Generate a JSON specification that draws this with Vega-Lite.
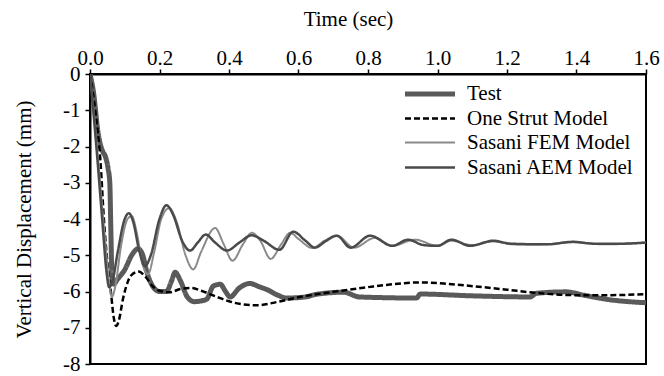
{
  "$schema": "https://vega.github.io/schema/vega-lite/v6.json",
  "width": 556,
  "height": 290,
  "autosize": {"type": "none"},
  "padding": {"left": 90, "top": 74, "right": 18, "bottom": 12},
  "background": "white",
  "config": {
    "font": "Liberation Serif, Times New Roman, serif",
    "view": {"stroke": "black", "strokeWidth": 2},
    "legend": {"labelFont": "Liberation Serif, Times New Roman, serif"},
    "axis": {"grid": false, "domainColor": "black", "domainWidth": 2, "tickColor": "black", "tickWidth": 1.5, "tickSize": 5, "labelColor": "black", "labelFont": "Liberation Serif, Times New Roman, serif", "labelFontSize": 21, "titleFont": "Liberation Serif, Times New Roman, serif", "titleFontSize": 21, "titleFontWeight": "normal", "titleColor": "black"}
  },
  "data": {"values": [
    {"t":0,"v":0,"s":"Test"},{"t":0.01,"v":-0.5,"s":"Test"},{"t":0.023,"v":-1.6,"s":"Test"},{"t":0.035,"v":-2.1,"s":"Test"},{"t":0.045,"v":-2.3,"s":"Test"},{"t":0.052,"v":-2.6,"s":"Test"},{"t":0.057,"v":-3.0,"s":"Test"},{"t":0.06,"v":-4.3,"s":"Test"},{"t":0.063,"v":-5.5,"s":"Test"},{"t":0.068,"v":-5.8,"s":"Test"},{"t":0.08,"v":-5.65,"s":"Test"},{"t":0.1,"v":-5.4,"s":"Test"},{"t":0.12,"v":-5.0,"s":"Test"},{"t":0.138,"v":-4.82,"s":"Test"},{"t":0.15,"v":-4.95,"s":"Test"},{"t":0.165,"v":-5.5,"s":"Test"},{"t":0.18,"v":-5.85,"s":"Test"},{"t":0.2,"v":-6.0,"s":"Test"},{"t":0.22,"v":-6.0,"s":"Test"},{"t":0.235,"v":-5.7,"s":"Test"},{"t":0.245,"v":-5.47,"s":"Test"},{"t":0.26,"v":-5.7,"s":"Test"},{"t":0.28,"v":-6.15,"s":"Test"},{"t":0.3,"v":-6.28,"s":"Test"},{"t":0.335,"v":-6.22,"s":"Test"},{"t":0.355,"v":-5.85,"s":"Test"},{"t":0.375,"v":-5.8,"s":"Test"},{"t":0.39,"v":-6.0,"s":"Test"},{"t":0.403,"v":-6.15,"s":"Test"},{"t":0.43,"v":-5.9,"s":"Test"},{"t":0.46,"v":-5.78,"s":"Test"},{"t":0.49,"v":-5.88,"s":"Test"},{"t":0.51,"v":-5.95,"s":"Test"},{"t":0.54,"v":-6.1,"s":"Test"},{"t":0.566,"v":-6.18,"s":"Test"},{"t":0.62,"v":-6.15,"s":"Test"},{"t":0.65,"v":-6.08,"s":"Test"},{"t":0.73,"v":-6.02,"s":"Test"},{"t":0.775,"v":-6.15,"s":"Test"},{"t":0.94,"v":-6.18,"s":"Test"},{"t":0.95,"v":-6.07,"s":"Test"},{"t":1.1,"v":-6.12,"s":"Test"},{"t":1.266,"v":-6.15,"s":"Test"},{"t":1.285,"v":-6.05,"s":"Test"},{"t":1.37,"v":-6.01,"s":"Test"},{"t":1.42,"v":-6.1,"s":"Test"},{"t":1.49,"v":-6.22,"s":"Test"},{"t":1.6,"v":-6.31,"s":"Test"},

    {"t":0,"v":0,"s":"One Strut Model"},{"t":0.015,"v":-1.0,"s":"One Strut Model"},{"t":0.03,"v":-2.4,"s":"One Strut Model"},{"t":0.04,"v":-4.0,"s":"One Strut Model"},{"t":0.05,"v":-5.2,"s":"One Strut Model"},{"t":0.06,"v":-6.0,"s":"One Strut Model"},{"t":0.068,"v":-6.7,"s":"One Strut Model"},{"t":0.075,"v":-6.95,"s":"One Strut Model"},{"t":0.083,"v":-6.8,"s":"One Strut Model"},{"t":0.095,"v":-6.2,"s":"One Strut Model"},{"t":0.11,"v":-5.7,"s":"One Strut Model"},{"t":0.125,"v":-5.5,"s":"One Strut Model"},{"t":0.14,"v":-5.45,"s":"One Strut Model"},{"t":0.16,"v":-5.6,"s":"One Strut Model"},{"t":0.18,"v":-5.85,"s":"One Strut Model"},{"t":0.2,"v":-5.98,"s":"One Strut Model"},{"t":0.23,"v":-6.02,"s":"One Strut Model"},{"t":0.26,"v":-5.93,"s":"One Strut Model"},{"t":0.29,"v":-5.9,"s":"One Strut Model"},{"t":0.32,"v":-5.98,"s":"One Strut Model"},{"t":0.365,"v":-6.15,"s":"One Strut Model"},{"t":0.4,"v":-6.27,"s":"One Strut Model"},{"t":0.43,"v":-6.34,"s":"One Strut Model"},{"t":0.48,"v":-6.38,"s":"One Strut Model"},{"t":0.538,"v":-6.29,"s":"One Strut Model"},{"t":0.604,"v":-6.15,"s":"One Strut Model"},{"t":0.7,"v":-6.01,"s":"One Strut Model"},{"t":0.8,"v":-5.88,"s":"One Strut Model"},{"t":0.87,"v":-5.8,"s":"One Strut Model"},{"t":0.95,"v":-5.75,"s":"One Strut Model"},{"t":1.03,"v":-5.79,"s":"One Strut Model"},{"t":1.13,"v":-5.88,"s":"One Strut Model"},{"t":1.2,"v":-5.95,"s":"One Strut Model"},{"t":1.275,"v":-6.03,"s":"One Strut Model"},{"t":1.39,"v":-6.1,"s":"One Strut Model"},{"t":1.5,"v":-6.1,"s":"One Strut Model"},{"t":1.6,"v":-6.07,"s":"One Strut Model"},

    {"t":0,"v":0,"s":"Sasani FEM Model"},{"t":0.02,"v":-2.0,"s":"Sasani FEM Model"},{"t":0.04,"v":-4.2,"s":"Sasani FEM Model"},{"t":0.055,"v":-5.7,"s":"Sasani FEM Model"},{"t":0.063,"v":-6.15,"s":"Sasani FEM Model"},{"t":0.072,"v":-5.9,"s":"Sasani FEM Model"},{"t":0.09,"v":-4.7,"s":"Sasani FEM Model"},{"t":0.108,"v":-4.0,"s":"Sasani FEM Model"},{"t":0.12,"v":-3.92,"s":"Sasani FEM Model"},{"t":0.135,"v":-4.4,"s":"Sasani FEM Model"},{"t":0.15,"v":-5.2,"s":"Sasani FEM Model"},{"t":0.167,"v":-5.52,"s":"Sasani FEM Model"},{"t":0.185,"v":-4.9,"s":"Sasani FEM Model"},{"t":0.205,"v":-4.0,"s":"Sasani FEM Model"},{"t":0.228,"v":-3.7,"s":"Sasani FEM Model"},{"t":0.25,"v":-4.1,"s":"Sasani FEM Model"},{"t":0.275,"v":-5.0,"s":"Sasani FEM Model"},{"t":0.297,"v":-5.39,"s":"Sasani FEM Model"},{"t":0.32,"v":-4.9,"s":"Sasani FEM Model"},{"t":0.36,"v":-4.25,"s":"Sasani FEM Model"},{"t":0.385,"v":-4.7,"s":"Sasani FEM Model"},{"t":0.41,"v":-5.15,"s":"Sasani FEM Model"},{"t":0.44,"v":-4.7,"s":"Sasani FEM Model"},{"t":0.466,"v":-4.38,"s":"Sasani FEM Model"},{"t":0.49,"v":-4.6,"s":"Sasani FEM Model"},{"t":0.52,"v":-5.1,"s":"Sasani FEM Model"},{"t":0.55,"v":-4.7,"s":"Sasani FEM Model"},{"t":0.576,"v":-4.38,"s":"Sasani FEM Model"},{"t":0.6,"v":-4.55,"s":"Sasani FEM Model"},{"t":0.64,"v":-4.8,"s":"Sasani FEM Model"},{"t":0.675,"v":-4.6,"s":"Sasani FEM Model"},{"t":0.71,"v":-4.46,"s":"Sasani FEM Model"},{"t":0.76,"v":-4.79,"s":"Sasani FEM Model"},{"t":0.82,"v":-4.52,"s":"Sasani FEM Model"},{"t":0.87,"v":-4.74,"s":"Sasani FEM Model"},{"t":0.935,"v":-4.57,"s":"Sasani FEM Model"},{"t":1.0,"v":-4.74,"s":"Sasani FEM Model"},{"t":1.04,"v":-4.6,"s":"Sasani FEM Model"},{"t":1.1,"v":-4.72,"s":"Sasani FEM Model"},{"t":1.16,"v":-4.62,"s":"Sasani FEM Model"},{"t":1.22,"v":-4.7,"s":"Sasani FEM Model"},{"t":1.3,"v":-4.7,"s":"Sasani FEM Model"},{"t":1.39,"v":-4.64,"s":"Sasani FEM Model"},{"t":1.48,"v":-4.7,"s":"Sasani FEM Model"},{"t":1.6,"v":-4.65,"s":"Sasani FEM Model"},

    {"t":0,"v":0,"s":"Sasani AEM Model"},{"t":0.02,"v":-2.2,"s":"Sasani AEM Model"},{"t":0.035,"v":-4.0,"s":"Sasani AEM Model"},{"t":0.048,"v":-5.5,"s":"Sasani AEM Model"},{"t":0.055,"v":-5.88,"s":"Sasani AEM Model"},{"t":0.065,"v":-5.7,"s":"Sasani AEM Model"},{"t":0.08,"v":-4.9,"s":"Sasani AEM Model"},{"t":0.1,"v":-4.0,"s":"Sasani AEM Model"},{"t":0.112,"v":-3.84,"s":"Sasani AEM Model"},{"t":0.125,"v":-4.1,"s":"Sasani AEM Model"},{"t":0.14,"v":-4.8,"s":"Sasani AEM Model"},{"t":0.158,"v":-5.3,"s":"Sasani AEM Model"},{"t":0.175,"v":-5.0,"s":"Sasani AEM Model"},{"t":0.2,"v":-4.0,"s":"Sasani AEM Model"},{"t":0.22,"v":-3.62,"s":"Sasani AEM Model"},{"t":0.24,"v":-3.9,"s":"Sasani AEM Model"},{"t":0.265,"v":-4.6,"s":"Sasani AEM Model"},{"t":0.288,"v":-4.87,"s":"Sasani AEM Model"},{"t":0.31,"v":-4.65,"s":"Sasani AEM Model"},{"t":0.333,"v":-4.43,"s":"Sasani AEM Model"},{"t":0.36,"v":-4.65,"s":"Sasani AEM Model"},{"t":0.394,"v":-4.87,"s":"Sasani AEM Model"},{"t":0.43,"v":-4.65,"s":"Sasani AEM Model"},{"t":0.465,"v":-4.45,"s":"Sasani AEM Model"},{"t":0.5,"v":-4.6,"s":"Sasani AEM Model"},{"t":0.545,"v":-4.85,"s":"Sasani AEM Model"},{"t":0.585,"v":-4.35,"s":"Sasani AEM Model"},{"t":0.62,"v":-4.6,"s":"Sasani AEM Model"},{"t":0.647,"v":-4.79,"s":"Sasani AEM Model"},{"t":0.68,"v":-4.6,"s":"Sasani AEM Model"},{"t":0.71,"v":-4.46,"s":"Sasani AEM Model"},{"t":0.75,"v":-4.79,"s":"Sasani AEM Model"},{"t":0.806,"v":-4.46,"s":"Sasani AEM Model"},{"t":0.87,"v":-4.74,"s":"Sasani AEM Model"},{"t":0.915,"v":-4.57,"s":"Sasani AEM Model"},{"t":0.96,"v":-4.72,"s":"Sasani AEM Model"},{"t":1.0,"v":-4.74,"s":"Sasani AEM Model"},{"t":1.04,"v":-4.57,"s":"Sasani AEM Model"},{"t":1.094,"v":-4.74,"s":"Sasani AEM Model"},{"t":1.16,"v":-4.6,"s":"Sasani AEM Model"},{"t":1.21,"v":-4.68,"s":"Sasani AEM Model"},{"t":1.315,"v":-4.7,"s":"Sasani AEM Model"},{"t":1.39,"v":-4.63,"s":"Sasani AEM Model"},{"t":1.45,"v":-4.68,"s":"Sasani AEM Model"},{"t":1.53,"v":-4.68,"s":"Sasani AEM Model"},{"t":1.6,"v":-4.65,"s":"Sasani AEM Model"}
  ]},
  "mark": {"type": "line", "interpolate": "monotone", "clip": true},
  "encoding": {
    "x": {"field": "t", "type": "quantitative", "scale": {"domain": [0, 1.6], "nice": false, "zero": false},
      "axis": {"orient": "top", "title": "Time (sec)", "values": [0,0.2,0.4,0.6,0.8,1,1.2,1.4,1.6], "labelFlush": false, "labelPadding": 1, "titlePadding": 18, "titleX": 258}},
    "y": {"field": "v", "type": "quantitative", "scale": {"domain": [-8, 0], "nice": false},
      "axis": {"title": "Vertical Displacement (mm)", "values": [-8,-7,-6,-5,-4,-3,-2,-1,0], "labelExpr": "'' + datum.value", "labelPadding": 5, "titlePadding": 28}},
    "color": {"field": "s", "type": "nominal", "sort": null,
      "scale": {"domain": ["Test", "One Strut Model", "Sasani FEM Model", "Sasani AEM Model"], "range": ["#5a5a5a", "#000000", "#8a8a8a", "#4a4a4a"]},
      "legend": {"title": null, "orient": "none", "legendX": 325, "legendY": 5, "symbolType": "M-2,0H2", "symbolSize": 625, "labelFontSize": 21, "labelLimit": 400, "labelColor": "black", "rowPadding": 0.5, "labelOffset": 22}},
    "strokeDash": {"field": "s", "type": "nominal", "sort": null,
      "scale": {"domain": ["Test", "One Strut Model", "Sasani FEM Model", "Sasani AEM Model"], "range": [[1,0],[6,3],[1,0],[1,0]]},
      "legend": {"title": null, "orient": "none", "legendX": 325, "legendY": 5, "symbolType": "M-2,0H2", "symbolSize": 625, "labelFontSize": 21, "labelLimit": 400, "labelColor": "black", "rowPadding": 0.5, "labelOffset": 22}},
    "strokeWidth": {"field": "s", "type": "nominal", "sort": null,
      "scale": {"type": "ordinal", "domain": ["Test", "One Strut Model", "Sasani FEM Model", "Sasani AEM Model"], "range": [5, 2.5, 2, 2.5]},
      "legend": {"title": null, "orient": "none", "legendX": 325, "legendY": 5, "symbolType": "M-2,0H2", "symbolSize": 625, "labelFontSize": 21, "labelLimit": 400, "labelColor": "black", "rowPadding": 0.5, "labelOffset": 22}}
  }
}
